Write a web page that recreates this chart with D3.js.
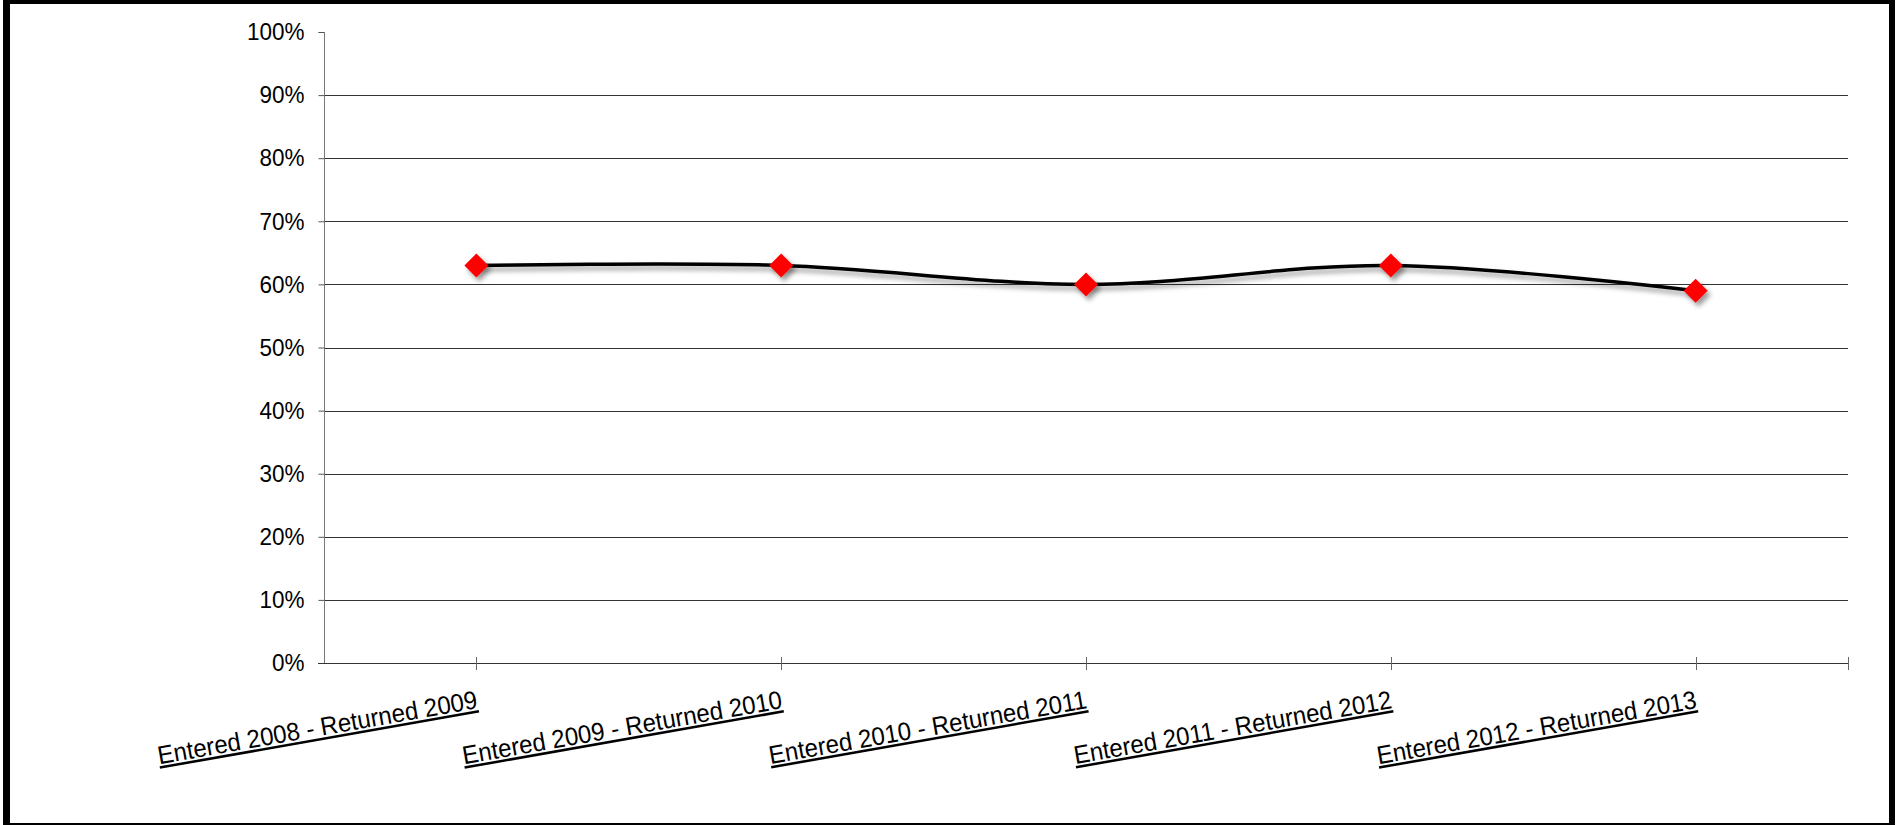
<!DOCTYPE html>
<html><head><meta charset="utf-8">
<script src="https://cdn.jsdelivr.net/npm/d3@7"></script>
<style>html,body{margin:0;padding:0;background:#fff;overflow:hidden}svg{display:block}</style>
</head><body>
<script>
const categories = ["Entered 2008 - Returned 2009","Entered 2009 - Returned 2010","Entered 2010 - Returned 2011","Entered 2011 - Returned 2012","Entered 2012 - Returned 2013"];
const values = [0.63, 0.63, 0.60, 0.63, 0.59];
const yTicks = [0,0.1,0.2,0.3,0.4,0.5,0.6,0.7,0.8,0.9,1.0];

(function(){
const W = 1902, H = 825;
const svg = d3.select("body").append("svg").attr("width", W).attr("height", H);
const defs = svg.append("defs");
const f = defs.append("filter").attr("id","sh").attr("x","-50%").attr("y","-50%").attr("width","200%").attr("height","200%");
f.append("feDropShadow").attr("dx",3).attr("dy",4).attr("stdDeviation",2.4).attr("flood-color","#000").attr("flood-opacity",0.4);

// frame
svg.append("rect").attr("x",3).attr("y",0).attr("width",7).attr("height",H).attr("fill","#000");
svg.append("rect").attr("x",3).attr("y",0).attr("width",1892).attr("height",4).attr("fill","#000");
svg.append("rect").attr("x",1889).attr("y",0).attr("width",6).attr("height",H).attr("fill","#000");
svg.append("rect").attr("x",3).attr("y",823).attr("width",1892).attr("height",2).attr("fill","#000");

const mLeft = 324, mRight = 1848, mTop = 32, mBottom = 663;
const x = d3.scaleBand().domain(categories).range([mLeft, mRight]).paddingInner(0).paddingOuter(0);
const y = d3.scaleLinear().domain([0,1]).range([mBottom, mTop]);
const cx = d => x(d) + x.bandwidth()/2;

// gridlines
svg.append("g").selectAll("line").data(yTicks.filter(t => t > 0 && t < 1)).join("line")
  .attr("x1", mLeft).attr("x2", mRight)
  .attr("y1", d => Math.round(y(d)) + 0.5).attr("y2", d => Math.round(y(d)) + 0.5)
  .attr("stroke","#333").attr("stroke-width",1);

// y axis
const yAxis = svg.append("g").attr("transform", `translate(${mLeft+0.5},0)`)
  .call(d3.axisLeft(y).tickValues(yTicks).tickFormat(d3.format(".0%")).tickSize(6).tickPadding(14));
yAxis.select(".domain").attr("stroke","#777").attr("d", `M-6,${y(1)+0.5}H0V${mBottom+0.5}`);
yAxis.selectAll(".tick line").attr("stroke","#555");
yAxis.selectAll(".tick text").attr("font-family","Liberation Sans, Arial, sans-serif").attr("font-size",22.5)
  .attr("fill","#000").attr("transform","scale(1,1.07)");

// x axis line and ticks
svg.append("line").attr("x1",mLeft-6).attr("x2",mRight).attr("y1",mBottom+0.5).attr("y2",mBottom+0.5).attr("stroke","#333");
const xt = categories.map(cx).concat([mRight]);
svg.append("g").selectAll("line").data(xt).join("line")
  .attr("x1", d => Math.round(d)+0.5).attr("x2", d => Math.round(d)+0.5)
  .attr("y1", mBottom-6).attr("y2", mBottom+7).attr("stroke","#666");

// x labels
svg.append("g").selectAll("text").data(categories).join("text")
  .attr("transform", d => `translate(${cx(d)+2},${mBottom+45}) rotate(-10) scale(1,1.06)`)
  .attr("text-anchor","end")
  .attr("font-family","Liberation Sans, Arial, sans-serif").attr("font-size",24)
  .attr("text-decoration","underline").attr("fill","#000")
  .text(d => d);

// line
const line = d3.line().x((d,i) => cx(categories[i])).y(d => y(d)).curve(d3.curveCatmullRom.alpha(0.5));
svg.append("path").datum(values).attr("d", line).attr("fill","none").attr("stroke","#000").attr("stroke-width",3.5).attr("filter","url(#sh)");

// markers
const s = 12;
svg.append("g").attr("filter","url(#sh)").selectAll("path").data(values).join("path")
  .attr("d", (d,i) => { const px = cx(categories[i]), py = y(d); return `M${px},${py-s}L${px+s},${py}L${px},${py+s}L${px-s},${py}Z`; })
  .attr("fill","#ff0000");
})();
</script>
</body></html>
